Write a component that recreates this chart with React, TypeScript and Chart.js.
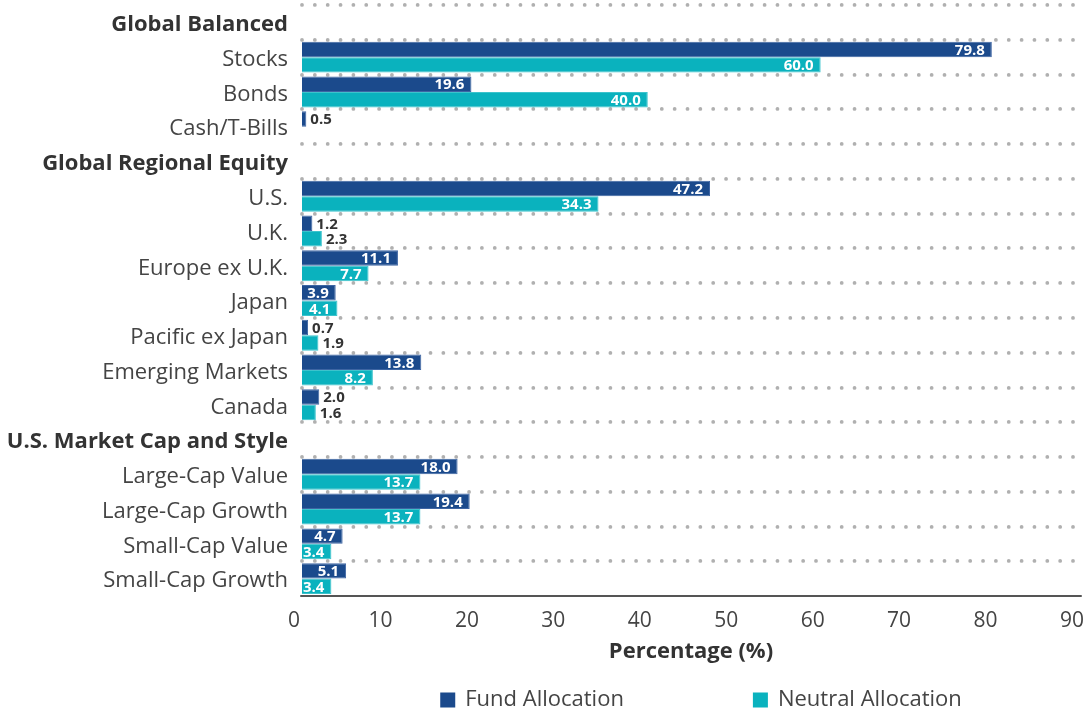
import React, { useEffect, useRef } from 'react';
import { Chart, registerables } from 'chart.js';

Chart.register(...registerables);

const categories = [
  'Global Balanced',
  'Stocks',
  'Bonds',
  'Cash/T-Bills',
  'Global Regional Equity',
  'U.S.',
  'U.K.',
  'Europe ex U.K.',
  'Japan',
  'Pacific ex Japan',
  'Emerging Markets',
  'Canada',
  'U.S. Market Cap and Style',
  'Large-Cap Value',
  'Large-Cap Growth',
  'Small-Cap Value',
  'Small-Cap Growth',
];

const headerRows = ['Global Balanced', 'Global Regional Equity', 'U.S. Market Cap and Style'];

const fundAllocation = [null, 79.8, 19.6, 0.5, null, 47.2, 1.2, 11.1, 3.9, 0.7, 13.8, 2.0, null, 18.0, 19.4, 4.7, 5.1];
const neutralAllocation = [null, 60.0, 40.0, null, null, 34.3, 2.3, 7.7, 4.1, 1.9, 8.2, 1.6, null, 13.7, 13.7, 3.4, 3.4];

const seriesNames = ['Fund Allocation', 'Neutral Allocation'];
const xMin = 0;
const xMax = 90;
const xStep = 10;
const xTitle = 'Percentage (%)';

const FONT = "'Open Sans', 'Noto Sans', sans-serif";
const FUND_COLOR = '#1B4A8C';
const FUND_BORDER = '#3E65A3';
const NEUTRAL_COLOR = '#0AB2BE';
const NEUTRAL_BORDER = '#3CC3CC';
const TEXT_DARK = '#333333';
const TEXT_MID = '#444444';
const GRID_COLOR = '#B0B0B0';

export default function App() {
  const canvasRef = useRef<HTMLCanvasElement>(null);

  useEffect(() => {
    const canvas = canvasRef.current;
    if (!canvas) return;

    const dotCapPlugin = {
      id: 'dotCap',
      beforeDraw(chart: any) {
        chart.ctx.lineCap = 'round';
      },
    };

    const dataLabelPlugin = {
      id: 'barValueLabels',
      afterDatasetsDraw(chart: any) {
        const ctx = chart.ctx;
        ctx.save();
        ctx.font = `bold 15px ${FONT}`;
        ctx.textBaseline = 'middle';
        chart.data.datasets.forEach((ds: any, di: number) => {
          const meta = chart.getDatasetMeta(di);
          meta.data.forEach((bar: any, i: number) => {
            const v = ds.data[i];
            if (v === null || v === undefined) return;
            const text = Number(v).toFixed(1);
            const w = ctx.measureText(text).width;
            const len = bar.x - bar.base;
            if (len >= w + 6) {
              ctx.fillStyle = '#FFFFFF';
              ctx.textAlign = 'right';
              ctx.fillText(text, bar.x - 7, bar.y + 1);
            } else {
              ctx.fillStyle = TEXT_DARK;
              ctx.textAlign = 'left';
              ctx.fillText(text, bar.x + 4, bar.y + 1);
            }
          });
        });
        ctx.restore();
      },
    };

    const legendPlugin = {
      id: 'bottomLegend',
      afterDraw(chart: any) {
        const ctx = chart.ctx;
        const area = chart.chartArea;
        ctx.save();
        ctx.font = `22px ${FONT}`;
        ctx.textBaseline = 'middle';
        ctx.textAlign = 'left';
        const box = 15;
        const boxGap = 10;
        const itemGap = 129;
        const colors = [FUND_COLOR, NEUTRAL_COLOR];
        const widths = seriesNames.map((n) => box + boxGap + ctx.measureText(n).width);
        const total = widths.reduce((a, b) => a + b, 0) + itemGap * (widths.length - 1);
        const cx = (area.left + area.right) / 2 + 10;
        let x = cx - total / 2;
        const cy = 700;
        seriesNames.forEach((name, i) => {
          ctx.fillStyle = colors[i];
          ctx.fillRect(x, cy - box / 2, box, box);
          ctx.fillStyle = TEXT_MID;
          ctx.fillText(name, x + box + boxGap, cy);
          x += widths[i] + itemGap;
        });
        ctx.restore();
      },
    };

    const chart = new Chart(canvas, {
      type: 'bar',
      data: {
        labels: categories,
        datasets: [
          {
            label: seriesNames[0],
            data: fundAllocation as any,
            backgroundColor: FUND_COLOR,
            borderColor: FUND_BORDER,
            borderWidth: 1,
            categoryPercentage: 0.89,
            barPercentage: 1,
          },
          {
            label: seriesNames[1],
            data: neutralAllocation as any,
            backgroundColor: NEUTRAL_COLOR,
            borderColor: NEUTRAL_BORDER,
            borderWidth: 1,
            categoryPercentage: 0.89,
            barPercentage: 1,
          },
        ],
      },
      options: {
        indexAxis: 'y',
        responsive: false,
        maintainAspectRatio: false,
        animation: false,
        layout: { padding: { top: 5, right: 6, left: 0, bottom: 45 } },
        plugins: {
          legend: { display: false },
          tooltip: { enabled: false },
        },
        scales: {
          y: {
            type: 'category',
            offset: true,
            grid: {
              offset: true,
              drawTicks: false,
              lineWidth: 3.8,
              color: (c: any) => (c.index === undefined ? 'rgba(0,0,0,0)' : GRID_COLOR),
            },
            border: { display: false, dash: [0, 12.85], dashOffset: 0 },
            ticks: {
              autoSkip: false,
              padding: 14,
              labelOffset: 2.5,
              color: (c: any) => (headerRows.includes(categories[c.index]) ? TEXT_DARK : TEXT_MID),
              font: (c: any) =>
                headerRows.includes(categories[c.index])
                  ? { family: FONT, size: 22, weight: 'bold' }
                  : { family: FONT, size: 22, weight: 'normal' },
            },
            afterFit: (s: any) => {
              s.width = 302;
              s.paddingTop = 0;
              s.paddingBottom = 0;
            },
          },
          x: {
            type: 'linear',
            min: xMin,
            max: xMax,
            grid: { display: false, drawTicks: false },
            border: { display: true, color: '#555555', width: 2 },
            ticks: {
              stepSize: xStep,
              padding: 12,
              labelOffset: -8,
              color: TEXT_MID,
              font: { family: FONT, size: 21 },
            },
            title: {
              display: true,
              text: xTitle,
              color: TEXT_DARK,
              font: { family: FONT, size: 22, weight: 'bold' },
              padding: { top: 4, bottom: 4 },
            },
            afterFit: (s: any) => {
              s.paddingLeft = 0;
              s.paddingRight = 0;
              s.height = 73;
            },
          },
        },
      },
      plugins: [dotCapPlugin, dataLabelPlugin, legendPlugin],
    } as any);

    return () => {
      chart.destroy();
    };
  }, []);

  return (
    <div style={{ position: 'absolute', left: 0, top: 0, width: 1086, height: 714, overflow: 'hidden', background: '#FFFFFF' }}>
      <canvas ref={canvasRef} width={1086} height={714} style={{ display: 'block', width: 1086, height: 714 }} />
    </div>
  );
}
